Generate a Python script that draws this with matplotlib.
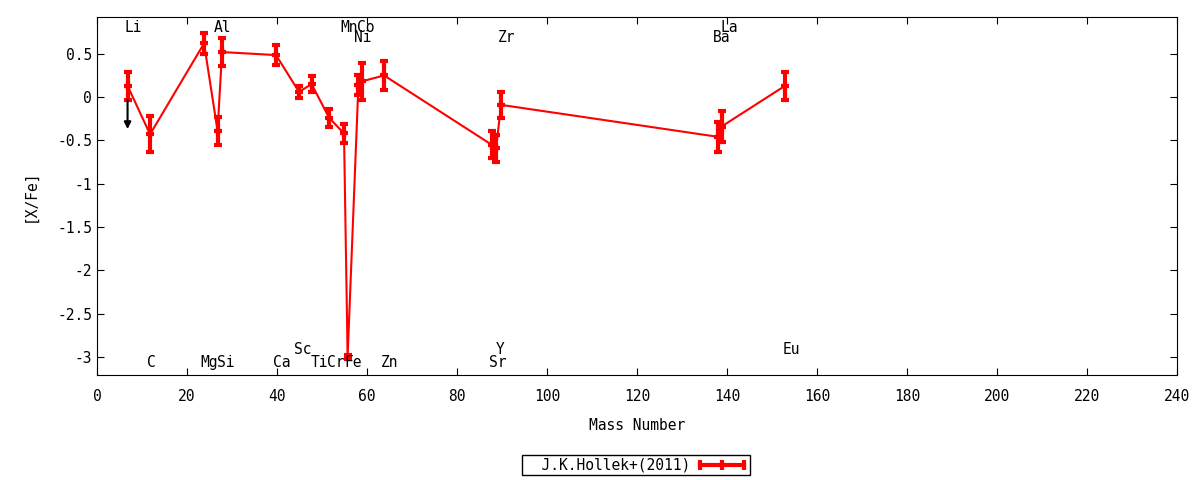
import numpy as np
import matplotlib
matplotlib.use('Agg')
import matplotlib.pyplot as plt
from matplotlib.lines import Line2D
from matplotlib.ticker import FuncFormatter

plt.rcParams['font.family'] = ['DejaVu Sans Mono']
plt.rcParams['font.size'] = 10
plt.rcParams['axes.unicode_minus'] = False

# измерения [X/Fe], J.K.Hollek+(2011)
mass = [6.8, 11.8, 23.8, 26.8, 27.8, 39.8, 44.9, 47.7, 51.6, 54.9, 55.7,
        58.1, 58.8, 63.8, 87.7, 88.7, 89.8, 138.1, 138.8, 152.9]
xfe = [0.13, -0.43, 0.62, -0.39, 0.52, 0.485, 0.06, 0.15, -0.24, -0.42, -3.0,
       0.14, 0.18, 0.25, -0.55, -0.59, -0.09, -0.46, -0.34, 0.13]
xfe_err = [0.16, 0.21, 0.12, 0.16, 0.16, 0.12, 0.07, 0.09, 0.10, 0.11, 0.02,
           0.12, 0.21, 0.165, 0.155, 0.155, 0.15, 0.175, 0.175, 0.16]

# верхний предел для Li
li_arrow_x = 6.8
li_arrow_from = -0.03
li_arrow_to = -0.37

# подписи элементов
el_names = ['Li', 'C', 'Mg', 'Al', 'Si', 'Ca', 'Sc', 'Ti', 'Cr', 'Mn', 'Fe',
            'Co', 'Ni', 'Zn', 'Sr', 'Y', 'Zr', 'Ba', 'La', 'Eu']
el_x = [8.1, 12.2, 25.0, 28.0, 28.7, 41.1, 45.8, 49.4, 53.1, 56.1, 57.0,
        59.8, 59.0, 65.1, 89.0, 89.6, 91.1, 138.9, 140.4, 154.4]
el_y = [0.8, -3.07, -3.07, 0.8, -3.07, -3.07, -2.91, -3.07, -3.07, 0.8, -3.07,
        0.8, 0.69, -3.07, -3.07, -2.91, 0.69, 0.69, 0.8, -2.91]

fig = plt.figure(figsize=(12, 4.8), dpi=100)
ax = fig.add_axes([0.0808, 0.2188, 0.9, 0.7458])

ax.errorbar(mass, xfe, yerr=xfe_err, color='red', lw=1.5, elinewidth=3,
            capsize=3, capthick=3, marker='+', ms=6, mew=3)

ax.annotate('', xy=(li_arrow_x, li_arrow_to), xytext=(li_arrow_x, li_arrow_from),
            arrowprops=dict(arrowstyle='-|>', color='black', lw=1.5,
                            mutation_scale=10, shrinkA=0, shrinkB=0))

for name, x, y in zip(el_names, el_x, el_y):
    ax.text(x, y, name, ha='center', va='center', fontsize=10.5)

ax.set_xlim(0, 240)
ax.set_ylim(-3.21, 0.925)
ax.set_xticks(np.arange(0, 241, 20))
ax.set_yticks(np.arange(-3, 0.51, 0.5))
ax.yaxis.set_major_formatter(FuncFormatter(lambda v, p: '%g' % v))
ax.tick_params(direction='in', top=True, right=True, length=5, labelsize=10.5)
ax.tick_params(axis='x', pad=10)
ax.set_xlabel('Mass Number', fontsize=10.5, labelpad=10)
ax.set_ylabel('[X/Fe]', fontsize=10.5, labelpad=14)

# образец в легенде как в gnuplot: горизонтальная линия с засечками
handle = Line2D([0], [0], color='red', lw=3, marker='|', ms=7, mew=3)
fig.legend([handle], ['  J.K.Hollek+(2011)'], loc='center',
           bbox_to_anchor=(0.53, 0.031), fancybox=False, edgecolor='black',
           framealpha=1, markerfirst=False, fontsize=10.5, numpoints=3,
           handlelength=3.6, borderpad=0.15, borderaxespad=0,
           handletextpad=0.4)

fig.savefig('out.png', dpi=100)
